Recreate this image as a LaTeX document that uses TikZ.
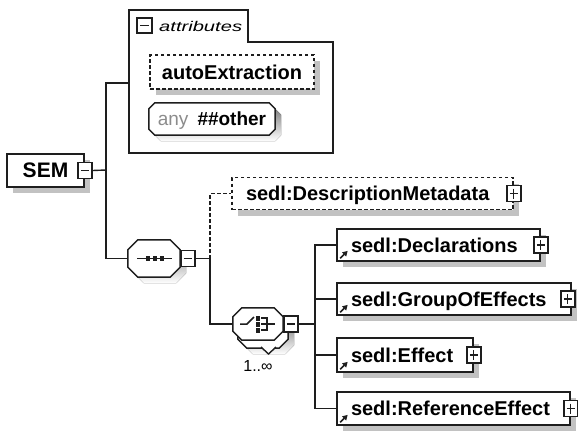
\documentclass[tikz,border=0pt]{standalone}
\usepackage{fontspec}
\setmainfont{Liberation Sans}
\usetikzlibrary{arrows.meta,shadows}

\definecolor{edge}{HTML}{1E1E1E}
\definecolor{shade}{HTML}{C2C2C2}
\definecolor{anygray}{HTML}{8C8C8C}

\tikzset{
  link/.style={draw=edge, line width=1.4pt},
  optlink/.style={link, dash pattern=on 3.5pt off 2.5pt},
  shadowed/.style={drop shadow={shadow xshift=6pt, shadow yshift=-6pt, fill=shade, opacity=1}},
  box/.style={rectangle, draw=edge, line width=1.7pt, fill=white, inner ysep=0pt,
    text height=16pt, text depth=2pt, font=\fontsize{20}{22}\selectfont\bfseries},
  elem/.style={box, shadowed, inner xsep=14pt, align=left, minimum height=32pt},
  optelem/.style={elem, dash pattern=on 3.5pt off 2.5pt},
  grp/.style={draw=edge, line width=1.5pt},
  btn/.style={rectangle, draw=edge, line width=1.3pt, fill=white, inner sep=0pt,
    minimum width=14pt, minimum height=16pt},
  btnminus/.style={btn, path picture={
      \draw[edge, line width=1.2pt]
        ([xshift=3pt]path picture bounding box.west) --
        ([xshift=-3pt]path picture bounding box.east);}},
  btnplus/.style={btn, path picture={
      \draw[edge, line width=1.2pt]
        ([xshift=3pt]path picture bounding box.west) --
        ([xshift=-3pt]path picture bounding box.east)
        ([yshift=-3pt]path picture bounding box.north) --
        ([yshift=3pt]path picture bounding box.south);}},
  frame/.style={rectangle, draw=none, inner sep=0pt},
  octline/.style={draw=edge, fill=white, line width=1.5pt, line join=round},
  refmark/.style={edge, line width=1.6pt, -{Triangle[length=5pt,width=5.5pt]}},
  dot/.style={fill=edge, draw=none, minimum width=4.5pt, minimum height=5pt, inner sep=0pt, rectangle}
}

% octagon outline around a named frame node, corners cut by #2
\newcommand{\octpath}[2]{([xshift=#2]#1.north west) -- ([xshift=-#2]#1.north east)
  -- ([yshift=-#2]#1.north east) -- ([yshift=#2]#1.south east)
  -- ([xshift=-#2]#1.south east) -- ([xshift=#2]#1.south west)
  -- ([yshift=#2]#1.south west) -- ([yshift=-#2]#1.north west) -- cycle}
\newcommand{\drawoct}[2]{%
  \fill[shade, transform canvas={shift={(6pt,-6pt)}}] \octpath{#1}{#2};
  \path[octline] \octpath{#1}{#2};}

\begin{document}
\begin{tikzpicture}[x=1pt,y=-1pt]
\useasboundingbox (0,0) rectangle (578,432);

% ---------- attribute group ----------
\draw[grp] (129,153) -- (129,10) -- (248,10) -- (248,42) -- (333,42) -- (333,153) -- cycle;
\node[btnminus, minimum width=15pt, minimum height=15pt] (attrbtn) at (144.5,25.5) {};
\node[anchor=west, inner sep=0pt] (attrtxt) at (159,26)
  {\scalebox{1.55}[1.08]{\fontsize{13}{13}\selectfont\itshape attributes}};
\node[box, shadowed, dash pattern=on 3.5pt off 2.5pt, minimum width=164pt, minimum height=34pt]
  (autoex) at (232,72) {autoExtraction};
\node[frame, minimum width=126pt, minimum height=32pt] (anyother) at (212,119) {};
\drawoct{anyother}{6pt}
\node[inner sep=0pt, font=\fontsize{19}{21}\selectfont, text height=15pt, text depth=3pt]
  (anytxt) at (anyother.center) {\textcolor{anygray}{any}\hspace{9pt}\textbf{\#\#other}};
\coordinate (attrin) at (129,83);

% ---------- root element ----------
\node[box, shadowed, minimum width=77pt, minimum height=33pt, font=\fontsize{21}{22}\selectfont\bfseries]
  (sem) at (45.5,170.5) {SEM\hspace{4pt}};
\node[btnminus] (sembtn) at (sem.east) {};

% ---------- sequence compositor ----------
\node[frame, minimum width=52pt, minimum height=37pt] (seq) at (154,258.5) {};
\drawoct{seq}{10pt}
\draw[edge, line width=1.5pt] (137,258.5) -- (172,258.5);
\node[dot] (sq1) at (148,258.5) {};
\node[dot] (sq2) at (155,258.5) {};
\node[dot] (sq3) at (162,258.5) {};
\node[btnminus, anchor=west] (seqbtn) at (seq.east) {};

% ---------- choice compositor (1..unbounded) ----------
\node[frame, minimum width=50pt, minimum height=32pt] (choiceback) at (263,332) {};
\drawoct{choiceback}{9pt}
\draw[edge, line width=1.4pt, fill=white] (261,347) -- (268.5,354) -- (276,347);
\node[frame, minimum width=50pt, minimum height=32pt] (choice) at (258,324) {};
\path[octline] \octpath{choice}{9pt};
\draw[edge, line width=1.5pt] (240,324) -- (247,324) -- (254,317);
\node[dot] (ch1) at (258,318) {};
\node[dot] (ch2) at (258,324) {};
\node[dot] (ch3) at (258,330) {};
\draw[edge, line width=1.5pt] (261,318) -- (267,318) -- (267,330) -- (261,330)
  (261,324) -- (275,324);
\node[btnminus, anchor=west] (choicebtn) at (choice.east) {};
\node[anchor=north, inner sep=0pt, font=\fontsize{16}{16}\selectfont] (occurs) at (258,360) {1..∞};

% ---------- child elements ----------
\node[optelem, text width=253pt] (descr) at (372.5,193.5) {sedl:DescriptionMetadata};
\node[btnplus] (descrbtn) at (descr.east) {};

\node[elem, text width=175pt] (decl) at (438.5,245) {sedl:Declarations};
\node[btnplus] (declbtn) at (decl.east) {};

\node[elem, text width=206pt] (group) at (454,299) {sedl:GroupOfEffects};
\node[btnplus] (groupbtn) at ([xshift=-4pt]group.east) {};

\node[elem, text width=108pt, minimum height=34pt] (effect) at (405,355) {sedl:Effect};
\node[btnplus] (effectbtn) at (effect.east) {};

\node[elem, text width=205pt, minimum height=33pt] (refeff) at (453.5,408.5) {sedl:ReferenceEffect};
\node[btnplus] (refeffbtn) at (refeff.east) {};

% reference markers in the lower left corner of each global element
\foreach \e in {decl,group,effect,refeff}
  \draw[refmark] ([shift={(4pt,3.5pt)}]\e.south west) -- ++(7.5,-7.5);

% ---------- connectors ----------
\coordinate (trunk) at (106,170);
\coordinate (seqfork) at (210,258.5);
\coordinate (chfork) at (315,324);

\draw[link] (sembtn.east) -- (trunk);
\draw[link] (attrin) -- (attrin -| trunk) |- (seq.west);
\draw[link] (seqbtn.east) -- (seqfork);
\draw[optlink] (seqfork) |- (descr.west);
\draw[link] (seqfork) |- (choice.west);
\draw[link] (choicebtn.east) -- (chfork);
\draw[link] (chfork) |- (decl.west);
\draw[link] (chfork) |- (group.west);
\draw[link] (chfork) |- (effect.west);
\draw[link] (chfork) |- (refeff.west);
\end{tikzpicture}
\end{document}
